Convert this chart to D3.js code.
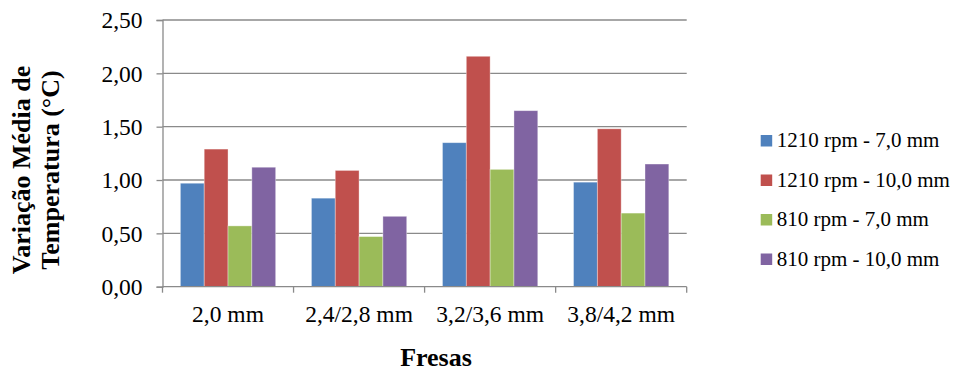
<!DOCTYPE html>
<html>
<head>
<meta charset="utf-8">
<script src="https://cdn.jsdelivr.net/npm/d3@7/dist/d3.min.js"></script>
<style>
  html, body { margin: 0; padding: 0; background: #fff; }
</style>
</head>
<body>
<svg id="chart" width="956" height="371"></svg>
<script>
// Drill sizes (categories)
const categories = ["2,0 mm", "2,4/2,8 mm", "3,2/3,6 mm", "3,8/4,2 mm"];
// Series: speed / depth combinations
const seriesNames = ["1210 rpm - 7,0 mm", "1210 rpm - 10,0 mm", "810 rpm - 7,0 mm", "810 rpm - 10,0 mm"];
const seriesColors = ["#4F81BD", "#C0504D", "#9BBB59", "#8064A2"];
// Mean temperature change per drill, one array per series
const s1210_7 = [0.97, 0.83, 1.35, 0.98];
const s1210_10 = [1.29, 1.09, 2.16, 1.48];
const s810_7 = [0.57, 0.47, 1.10, 0.69];
const s810_10 = [1.12, 0.66, 1.65, 1.15];
const seriesValues = [s1210_7, s1210_10, s810_7, s810_10];
const yTicks = [0, 0.5, 1.0, 1.5, 2.0, 2.5];

const svg = d3.select("#chart");
const plot = { left: 162.5, right: 686.7, top: 20, bottom: 286.7 };
const gridColor = "#8a8a8a";
const serif = "Liberation Serif";
const fmt = v => d3.format(".2f")(v).replace(".", ",");

const x = d3.scaleBand().domain(categories).range([plot.left, plot.right]).padding(0);
const xs = d3.scaleBand().domain(d3.range(seriesNames.length))
  .range([0, x.bandwidth()]).paddingInner(0).paddingOuter(0.75);
const y = d3.scaleLinear().domain([0, 2.5]).range([plot.bottom, plot.top]);

// horizontal gridlines
svg.append("g").selectAll("line").data(yTicks.slice(1)).join("line")
  .attr("x1", plot.left).attr("x2", plot.right)
  .attr("y1", d => y(d)).attr("y2", d => y(d))
  .attr("stroke", gridColor).attr("stroke-width", 1.3);

// bars
const groups = svg.append("g").selectAll("g").data(categories).join("g")
  .attr("transform", d => `translate(${x(d)},0)`);
groups.selectAll("rect")
  .data((c, ci) => seriesValues.map((vals, si) => ({ si, v: vals[ci] })))
  .join("rect")
  .attr("x", d => xs(d.si))
  .attr("width", xs.bandwidth())
  .attr("y", d => y(d.v))
  .attr("height", d => y(0) - y(d.v))
  .attr("fill", d => seriesColors[d.si])
  .attr("stroke", "rgba(255,255,255,0.45)")
  .attr("stroke-width", 0.8);

// y axis
const yAxis = svg.append("g").attr("transform", `translate(${plot.left},0)`)
  .call(d3.axisLeft(y).tickValues(yTicks).tickFormat(fmt).tickSizeOuter(0).tickSize(6).tickPadding(14));
yAxis.select(".domain").attr("stroke", gridColor).attr("stroke-width", 1.3);
yAxis.selectAll(".tick line").attr("stroke", gridColor).attr("stroke-width", 1.3);
yAxis.selectAll(".tick text")
  .style("font-family", serif)
  .style("font-size", "23.5px").attr("fill", "#000").attr("dy", "0.33em");

// x axis with ticks on category boundaries
const xAxisG = svg.append("g").attr("transform", `translate(0,${plot.bottom})`);
xAxisG.append("line").attr("x1", plot.left).attr("x2", plot.right)
  .attr("stroke", gridColor).attr("stroke-width", 1.3);
const edges = categories.map(c => x(c)).concat([x(categories[categories.length - 1]) + x.bandwidth()]);
xAxisG.selectAll("line.tk").data(edges).join("line").attr("class", "tk")
  .attr("x1", d => d).attr("x2", d => d).attr("y1", 0).attr("y2", 6)
  .attr("stroke", gridColor).attr("stroke-width", 1.3);
xAxisG.selectAll("text").data(categories).join("text")
  .attr("x", d => x(d) + x.bandwidth() / 2).attr("y", 35)
  .attr("text-anchor", "middle").attr("fill", "#000")
  .style("font-family", serif).style("font-size", "23.5px")
  .text(d => d);

// axis titles
svg.append("text").attr("x", 436).attr("y", 366)
  .attr("text-anchor", "middle")
  .style("font-family", serif).style("font-size", "26px").style("font-weight", "bold")
  .text("Fresas");
const yTitle = svg.append("text").attr("transform", "translate(0,170) rotate(-90)")
  .attr("text-anchor", "middle")
  .style("font-family", serif).style("font-size", "26px").style("font-weight", "bold");
yTitle.append("tspan").attr("x", 0).attr("y", 30).text("Variação Média de");
yTitle.append("tspan").attr("x", 0).attr("y", 59).text("Temperatura (°C)");

// legend
const legend = svg.append("g").attr("transform", "translate(760.7,135)");
const rows = legend.selectAll("g").data(seriesNames).join("g")
  .attr("transform", (d, i) => `translate(0,${i * 39.5})`);
rows.append("rect").attr("width", 11.5).attr("height", 11.5)
  .attr("fill", (d, i) => seriesColors[i]);
rows.append("text").attr("x", 16).attr("y", 12.3)
  .style("font-family", serif).style("font-size", "21px").attr("fill", "#000").text(d => d);
</script>
</body>
</html>
